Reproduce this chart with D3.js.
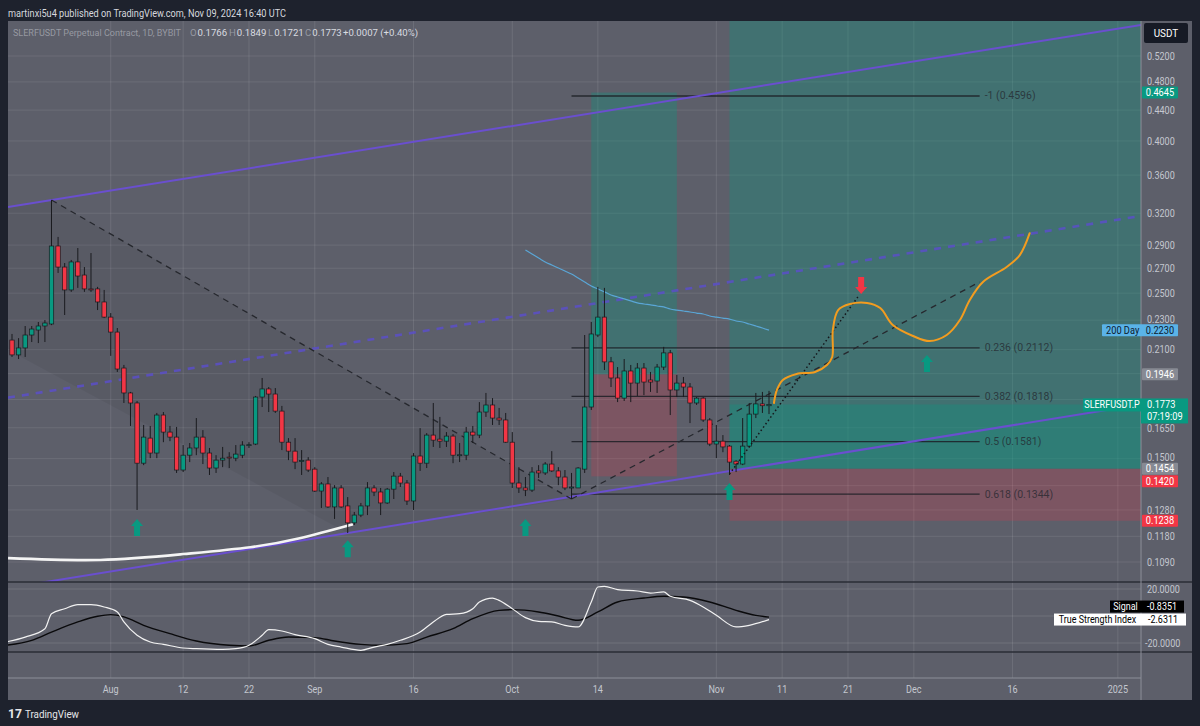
<!DOCTYPE html>
<html><head><meta charset="utf-8">
<script src="https://cdn.jsdelivr.net/npm/d3@7"></script>
<style>
body{margin:0;background:#1e222d;overflow:hidden}
text{font-family:Roboto,"Noto Sans",sans-serif}
</style>
</head><body>
<svg id="c" width="1200" height="726"></svg>
<script>
// ---------------- DATA ----------------
const startDate = "2024-07-17";
const opens = [0.2163,0.2066,0.2111,0.2197,0.2231,0.2259,0.2273,0.2892,0.2710,0.2525,
0.2753,0.2644,0.2533,0.2533,0.2433,0.2322,0.2217,0.1984,0.1837,0.1781,
0.1479,0.1598,0.1526,0.1716,0.1628,0.1603,0.1448,0.1516,0.1550,0.1603,
0.1526,0.1457,0.1493,0.1507,0.1502,0.1516,0.1564,0.1569,0.1814,0.1860,
0.1831,0.1737,0.1578,0.1535,0.1488,0.1493,0.1452,0.1357,0.1387,0.1292,
0.1370,0.1296,0.1230,0.1260,0.1296,0.1370,0.1353,0.1308,0.1365,0.1421,
0.1391,0.1316,0.1512,0.1479,0.1613,0.1593,0.1583,0.1608,0.1516,0.1516,
0.1628,0.1613,0.1732,0.1770,0.1700,0.1690,0.1578,0.1391,0.1370,0.1361,
0.1444,0.1435,0.1475,0.1444,0.1417,0.1370,0.1370,0.1452,0.1759,0.2197,
0.2322,0.2022,0.1924,0.1808,0.1966,0.1894,0.1984,0.1912,0.1906,0.1990,
0.2079,0.1854,0.1894,0.1871,0.1781,0.1808,0.1690,0.1569,0.1583,0.1559,
0.1488,0.1475,0.1559,0.1721,0.1776,0.1766];
const highs = [0.2204,0.2176,0.2259,0.2259,0.2287,0.2301,0.3333,0.2974,0.2744,0.2770,
0.2874,0.2710,0.2830,0.2549,0.2525,0.2351,0.2245,0.2003,0.1843,0.1792,
0.1664,0.1659,0.1727,0.1732,0.1659,0.1654,0.1564,0.1574,0.1700,0.1638,
0.1550,0.1516,0.1555,0.1530,0.1564,0.1583,0.1578,0.1820,0.1924,0.1871,
0.1865,0.1765,0.1598,0.1598,0.1540,0.1507,0.1461,0.1395,0.1417,0.1382,
0.1382,0.1332,0.1272,0.1308,0.1395,0.1382,0.1370,0.1370,0.1439,0.1435,
0.1404,0.1526,0.1648,0.1623,0.1781,0.1706,0.1628,0.1618,0.1574,0.1654,
0.1659,0.1786,0.1837,0.1808,0.1754,0.1727,0.1628,0.1461,0.1417,0.1461,
0.1470,0.1484,0.1535,0.1461,0.1448,0.1435,0.1461,0.2197,0.2287,0.2549,
0.2541,0.2053,0.1990,0.2040,0.2003,0.2015,0.2015,0.1960,0.2009,0.2118,
0.2098,0.1942,0.1930,0.1894,0.1814,0.1814,0.1700,0.1664,0.1613,0.1564,
0.1493,0.1700,0.1781,0.1837,0.1843,0.1849];
const lows = [0.2053,0.2040,0.2053,0.2150,0.2143,0.2150,0.2265,0.2661,0.2337,0.2510,
0.2541,0.2510,0.2510,0.2373,0.2315,0.2060,0.1960,0.1781,0.1659,0.1280,
0.1470,0.1502,0.1502,0.1578,0.1583,0.1435,0.1439,0.1484,0.1516,0.1475,
0.1426,0.1435,0.1461,0.1457,0.1488,0.1502,0.1550,0.1564,0.1759,0.1732,
0.1727,0.1540,0.1493,0.1452,0.1426,0.1439,0.1353,0.1288,0.1288,0.1245,
0.1288,0.1192,0.1222,0.1252,0.1260,0.1336,0.1260,0.1304,0.1324,0.1374,
0.1300,0.1280,0.1444,0.1457,0.1555,0.1550,0.1555,0.1479,0.1484,0.1493,
0.1574,0.1598,0.1706,0.1664,0.1664,0.1574,0.1370,0.1349,0.1336,0.1353,
0.1413,0.1426,0.1439,0.1382,0.1361,0.1324,0.1370,0.1435,0.1743,0.2183,
0.1972,0.1871,0.1786,0.1792,0.1786,0.1820,0.1825,0.1843,0.1837,0.1972,
0.1716,0.1814,0.1814,0.1674,0.1770,0.1680,0.1559,0.1502,0.1530,0.1426,
0.1439,0.1470,0.1555,0.1700,0.1727,0.1721];
const closes = [0.2066,0.2111,0.2197,0.2238,0.2259,0.2280,0.2892,0.2710,0.2525,0.2753,
0.2636,0.2533,0.2525,0.2433,0.2322,0.2217,0.1978,0.1837,0.1781,0.1479,
0.1603,0.1526,0.1716,0.1628,0.1603,0.1448,0.1516,0.1550,0.1603,0.1526,
0.1457,0.1493,0.1502,0.1505,0.1521,0.1564,0.1566,0.1814,0.1860,0.1831,
0.1737,0.1578,0.1535,0.1484,0.1491,0.1448,0.1357,0.1387,0.1292,0.1370,
0.1292,0.1230,0.1260,0.1296,0.1370,0.1353,0.1308,0.1365,0.1421,0.1391,
0.1316,0.1512,0.1479,0.1613,0.1588,0.1583,0.1608,0.1516,0.1518,0.1628,
0.1613,0.1732,0.1770,0.1700,0.1690,0.1578,0.1391,0.1370,0.1361,0.1439,
0.1435,0.1475,0.1444,0.1417,0.1370,0.1374,0.1457,0.1759,0.2204,0.2322,
0.2022,0.1924,0.1808,0.1966,0.1894,0.1984,0.1900,0.1900,0.1990,0.2079,
0.1854,0.1894,0.1871,0.1781,0.1808,0.1690,0.1569,0.1583,0.1555,0.1484,
0.1475,0.1559,0.1721,0.1776,0.1766,0.1773];

// 200-day moving average, daily from Oct 3
const maStartDay = 78;
const ma200 = [0.2856,0.2821,0.2787,0.2753,0.2727,0.2702,0.2677,0.2652,0.2620,0.2588,
0.2556,0.2533,0.2510,0.2486,0.2471,0.2456,0.2441,0.2426,0.2418,0.2411,
0.2403,0.2396,0.2381,0.2373,0.2366,0.2359,0.2351,0.2344,0.2330,0.2322,
0.2315,0.2308,0.2294,0.2287,0.2273,0.2259,0.2245,0.2230];

// True Strength Index and signal (day offset from start, value)
const tsiDays = [-1,2,5,6,8,10,12,14,16,17,19,21,23,26,28,32,34,36,38,39,41,43,46,48,50,53,55,57,59,62,64,66,68,70,71,73,74,76,78,80,82,84,86,88,89,90,92,95,97,99,100,103,105,107,110,112,115];
const tsiVals = [-19.3,-15.6,-9.4,1.7,5.4,8.4,8.4,6.7,3.0,-4.4,-14.3,-19.3,-21.0,-23.7,-24.2,-24.7,-24.2,-21.7,-14.3,-10.1,-11.1,-13.8,-16.8,-21.0,-23.0,-25.4,-23.0,-21.0,-18.0,-11.9,-4.4,1.2,1.7,5.4,10.4,13.3,11.6,5.4,-1.2,-4.0,-4.4,-6.9,-8.1,10.4,21.5,22.0,19.5,18.5,17.0,17.8,14.6,11.6,6.7,0.5,-8.1,-6.9,-2.6311];
const sigDays = [-1,3,6,10,13,15,17,20,24,28,33,36,39,42,46,49,53,56,60,63,67,70,74,76,80,83,86,89,92,96,99,102,106,110,113,115];
const sigVals = [-21.7,-18.0,-11.9,-4.4,-0.2,1.0,-0.7,-6.9,-13.1,-18.5,-21.7,-22.2,-18.0,-15.6,-16.0,-18.5,-21.0,-21.7,-20.5,-15.6,-9.4,-2.0,4.2,4.7,3.0,0,-3.2,3.0,10.4,13.3,14.6,14.1,10.4,4.2,0.5,-0.8351];

// axis ticks
const timeTicks = ["2024-08-01","2024-08-12","2024-08-22","2024-09-01","2024-09-16","2024-10-01","2024-10-14","2024-11-01","2024-11-11","2024-11-21","2024-12-01","2024-12-16","2025-01-01"];
const timeLabels = ["Aug","12","22","Sep","16","Oct","14","Nov","11","21","Dec","16","2025"];
const priceTicks = [0.52,0.48,0.44,0.40,0.36,0.32,0.29,0.27,0.25,0.23,0.21,0.195,0.18,0.165,0.15,0.138,0.128,0.118,0.109];
const tsiTicks = [20,0,-20];

// fib retracement
const fibNames = ["-1","0.236","0.382","0.5","0.618"];
const fibPrices = [0.4596,0.2112,0.1818,0.1581,0.1344];
const fibDays = [85,147];

// drawings: [day, price] anchors
const upperChannel = [[6,0.3333],[171,0.5714]];
const midChannel = [[0,0.1814],[171,0.3168]];
const lowerChannel = [[51,0.1192],[109,0.1443]];
const trendDown = [[6,0.3333],[85,0.1324]];
const trendUp = [[85,0.1324],[147,0.2588]];
const dottedTrend = [[109,0.1430],[128.5,0.2471]];
const arcDays = [-0.6,13.4,26,36.2,43.7,51.8];
const arcPrices = [0.1103,0.1097,0.1117,0.1141,0.1173,0.1225];
const pathDays = [115.75,116.2,117.1,119.2,122.0,123.8,124.6,124.7,125.5,127.3,129.9,131.9,133.8,136.9,139.4,142.0,144.0,145.5,147.5,151.1,153.1,154.6];
const pathPrices = [0.1781,0.1854,0.1912,0.1948,0.1960,0.2003,0.2053,0.2231,0.2373,0.2418,0.2426,0.2388,0.2266,0.2190,0.2156,0.2197,0.2301,0.2448,0.2588,0.2710,0.2812,0.3009];
const arrowDays = [19,51,78,109,139,129];
const arrowPrices = [0.1245,0.1166,0.1245,0.1391,0.2066,0.2494];
const arrowDirs = [1,1,1,1,1,-1];
const shadePoly = [[6,0.3333],[85,0.1324],[51,0.1192],[-0.6,0.2098]];

// position tools: start day, end day, target, entry, stop
const pos1 = {start:88, end:101, target:0.4645, entry:0.1946, stop:0.1420};
const pos2 = {start:109, end:200, target:0.65, entry:0.1454, stop:0.1238};

// ---------------- SCALES ----------------
const W=1200,H=726;
const L=8, R=1141, T=21, MB=582, IB=652, LB=678, AB=700, AR=1192;
const t0 = new Date(startDate+"T00:00:00Z").getTime();
const DAY=864e5;
const xs = d3.scaleUtc().domain([new Date(t0), new Date(t0+115*DAY)]).range([12,769]);
const X = d => xs(new Date(t0+d*DAY));
const Y = d3.scaleLog().domain([0.52,0.109]).range([56,562]);
const YI = d3.scaleLinear().domain([20,-20]).range([589,643]);

const svg = d3.select("#c");
function squeeze(sel,f){sel.each(function(){const l=this.getComputedTextLength();d3.select(this).attr("textLength",l*f).attr("lengthAdjust","spacingAndGlyphs");});}
function lineYAt(anc,x){const x1=X(anc[0][0]),y1=Y(anc[0][1]),x2=X(anc[1][0]),y2=Y(anc[1][1]);return y1+(y2-y1)/(x2-x1)*(x-x1);}

// backgrounds
svg.append("rect").attr("width",W).attr("height",H).attr("fill","#1e222d");
svg.append("rect").attr("x",L).attr("y",T).attr("width",AR-L).attr("height",AB-T).attr("fill","#5d5f6a");

const defs = svg.append("defs");
defs.append("clipPath").attr("id","mainClip").append("rect").attr("x",L).attr("y",T).attr("width",R-L).attr("height",MB-T);
defs.append("clipPath").attr("id","indClip").append("rect").attr("x",L).attr("y",MB).attr("width",R-L).attr("height",IB-MB);

// grid
const grid = svg.append("g");
timeTicks.forEach(t=>{const x=xs(new Date(t+"T00:00:00Z"));
  grid.append("line").attr("x1",x).attr("x2",x).attr("y1",T).attr("y2",LB).attr("stroke","rgba(255,255,255,0.10)");});
priceTicks.forEach(p=>{grid.append("line").attr("x1",L).attr("x2",R).attr("y1",Y(p)).attr("y2",Y(p)).attr("stroke","rgba(255,255,255,0.09)");});
tsiTicks.forEach(v=>{grid.append("line").attr("x1",L).attr("x2",R).attr("y1",YI(v)).attr("y2",YI(v)).attr("stroke","rgba(255,255,255,0.12)");});

const main = svg.append("g").attr("clip-path","url(#mainClip)");

// subtle shaded region
const shadePts = [[L, lineYAt(upperChannel, L)], ...shadePoly.map(a=>[X(a[0]),Y(a[1])])];
main.append("polygon").attr("points",shadePts.map(p=>p.join(",")).join(" ")).attr("fill","rgba(0,0,0,0.05)");

// position tools
function drawPos(p, current){
  const x1=X(p.start), x2=Math.min(X(p.end),R);
  main.append("rect").attr("x",x1).attr("width",x2-x1).attr("y",Y(p.target)).attr("height",Y(p.entry)-Y(p.target)).attr("fill","rgba(8,153,129,0.33)");
  main.append("rect").attr("x",x1).attr("width",x2-x1).attr("y",Y(p.entry)).attr("height",Y(p.stop)-Y(p.entry)).attr("fill","rgba(242,54,69,0.21)");
  if(current){
    main.append("rect").attr("x",x1).attr("width",x2-x1).attr("y",Y(current)).attr("height",Y(p.entry)-Y(current)).attr("fill","rgba(8,153,129,0.30)");
  }
}
drawPos(pos1);
drawPos(pos2, closes[closes.length-1]);

// fib levels
fibPrices.forEach((p,i)=>{
  main.append("line").attr("x1",X(fibDays[0])).attr("x2",X(fibDays[1])).attr("y1",Y(p)).attr("y2",Y(p)).attr("stroke","#1d1f26").attr("stroke-width",1.3).attr("opacity",0.85);
  main.append("text").attr("x",X(fibDays[1])+5).attr("y",Y(p)+3.5).attr("font-size",10.5).attr("fill","rgba(35,38,45,0.75)").text(`${fibNames[i]} (${p.toFixed(4)})`);
});

// channel
function fullLine(anc,x0,x1){return [[x0,lineYAt(anc,x0)],[x1,lineYAt(anc,x1)]];}
const ln = d3.line();
main.append("path").attr("d",ln(fullLine(upperChannel,L,R))).attr("stroke","#6a4fcf").attr("stroke-width",2).attr("fill","none");
main.append("path").attr("d",ln(fullLine(lowerChannel,L,R))).attr("stroke","#6a4fcf").attr("stroke-width",2).attr("fill","none");
main.append("path").attr("d",ln(fullLine(midChannel,L,R))).attr("stroke","#5b4fc8").attr("stroke-width",2.6).attr("stroke-dasharray","7,7").attr("fill","none").attr("opacity",0.85);

// white arc
main.append("path").attr("d",d3.line().curve(d3.curveNatural)(arcDays.map((d,i)=>[X(d),Y(arcPrices[i])]))).attr("stroke","#f4f4f4").attr("stroke-width",2.6).attr("fill","none");

// 200 MA
main.append("path").attr("d",d3.line().curve(d3.curveMonotoneX)(ma200.map((v,i)=>[X(maStartDay+i),Y(v)]))).attr("stroke","#5aa6d6").attr("stroke-width",1.2).attr("fill","none");

// dashed trend lines
[trendDown,trendUp].forEach(a=>{
  main.append("path").attr("d",ln(a.map(q=>[X(q[0]),Y(q[1])]))).attr("stroke","#26282e").attr("stroke-width",1.3).attr("stroke-dasharray","6,5").attr("fill","none");
});

// candles
const bw=4.4;
const cg = main.append("g");
opens.forEach((o,i)=>{
  const h=highs[i], l=lows[i], c=closes[i], x=X(i);
  const up = c>=o;
  cg.append("line").attr("x1",x).attr("x2",x).attr("y1",Y(h)).attr("y2",Y(l)).attr("stroke","#1a1b1f").attr("stroke-width",1);
  const yt=Y(Math.max(o,c)), yb=Y(Math.min(o,c));
  cg.append("rect").attr("x",x-bw/2).attr("width",bw).attr("y",yt).attr("height",Math.max(1,yb-yt))
    .attr("fill",up?"#089981":"#f23645").attr("stroke","#1a1b1f").attr("stroke-width",0.7);
});

// dotted
main.append("path").attr("d",ln(dottedTrend.map(q=>[X(q[0]),Y(q[1])]))).attr("stroke","#15161a").attr("stroke-width",1.5).attr("stroke-dasharray","1.5,2.6").attr("fill","none");

// orange path
main.append("path").attr("d",d3.line().curve(d3.curveCatmullRom.alpha(0.5))(pathDays.map((d,i)=>[X(d),Y(pathPrices[i])]))).attr("stroke","#f39c1f").attr("stroke-width",2).attr("fill","none").attr("stroke-linecap","round");

// arrows
arrowDays.forEach((d,i)=>{
  const x=X(d), y=Y(arrowPrices[i]), s=arrowDirs[i];
  const pts=[[0,0],[6,7],[3,7],[3,17],[-3,17],[-3,7],[-6,7]].map(p=>[x+p[0], y+s*p[1]]);
  main.append("polygon").attr("points",pts.map(p=>p.join(",")).join(" ")).attr("fill",s>0?"#089981":"#f23645");
});

// ---------- indicator pane ----------
const ind = svg.append("g").attr("clip-path","url(#indClip)");
ind.append("path").attr("d",d3.line().curve(d3.curveMonotoneX)(sigDays.map((d,i)=>[X(d),YI(sigVals[i])]))).attr("stroke","#0a0a0c").attr("stroke-width",1.4).attr("fill","none");
ind.append("path").attr("d",d3.line().curve(d3.curveMonotoneX)(tsiDays.map((d,i)=>[X(d),YI(tsiVals[i])]))).attr("stroke","#f2f2f2").attr("stroke-width",1.2).attr("fill","none");

// separators
svg.append("line").attr("x1",L).attr("x2",AR).attr("y1",MB).attr("y2",MB).attr("stroke","#2a2d36").attr("stroke-width",1.6);
svg.append("line").attr("x1",L).attr("x2",AR).attr("y1",IB).attr("y2",IB).attr("stroke","#2a2d36").attr("stroke-width",1.6);
svg.append("line").attr("x1",L).attr("x2",R).attr("y1",LB).attr("y2",LB).attr("stroke","#8d9099").attr("stroke-width",1);
svg.append("line").attr("x1",R).attr("x2",R).attr("y1",T).attr("y2",AB).attr("stroke","#8d9099").attr("stroke-width",1);

// price labels on axis (computed first so covered tick labels can be skipped or nudged)
const last = closes.length-1;
const labelSpecs = [
  {p:pos1.target, bg:"#089981"},
  {p:pos1.entry, bg:"#878a93"},
  {p:pos2.entry, bg:"#878a93"},
  {p:pos1.stop, bg:"#f23645"},
  {p:pos2.stop, bg:"#f23645"}
].map(s=>({...s,y:Y(s.p)})).sort((a,b)=>a.y-b.y);
for(let i=1;i<labelSpecs.length;i++){ if(labelSpecs[i].y-labelSpecs[i-1].y<12.5) labelSpecs[i].y=labelSpecs[i-1].y+12.5; }
const maLast = ma200[ma200.length-1];
const cy = Y(closes[last]);
const covered = [...labelSpecs.map(s=>[s.y-6,s.y+6]), [Y(maLast)-6,Y(maLast)+6], [cy-6,cy+19]];
function tickPlace(y){
  const half=4.8;
  for(const r of covered){
    const top=y-half, bot=y+half;
    if(bot>r[0] && top<r[1]){
      const upShift = bot-r[0], downShift = r[1]-top;
      if(upShift<=3) return y-upShift-0.3;
      if(downShift<=3) return y+downShift+0.3;
      return null;
    }
  }
  return y;
}

// price axis ticks
const axisG = svg.append("g");
priceTicks.forEach(p=>{
  const yy = tickPlace(Y(p));
  if(yy===null) return;
  axisG.append("text").attr("x",1147).attr("y",yy+3.6).attr("font-size",10.5).attr("fill","#c4c7cf").text(p.toFixed(4)).call(squeeze,0.86);
});
tsiTicks.filter(v=>v!==0).forEach(v=>{
  axisG.append("text").attr("x",v<0?1145:1147).attr("y",YI(v)+3.6).attr("font-size",10.5).attr("fill","#c4c7cf").text(v.toFixed(4)).call(squeeze,0.86);
});
// time axis labels
timeTicks.forEach((t,i)=>{
  axisG.append("text").attr("x",xs(new Date(t+"T00:00:00Z"))).attr("y",693).attr("text-anchor","middle").attr("font-size",10.5).attr("fill","#c4c7cf").text(timeLabels[i]).call(squeeze,0.86);
});

function boxLabel(x,y,w,h,bg,fg,txt,fs){
  axisG.append("rect").attr("x",x).attr("y",y-h/2).attr("width",w).attr("height",h).attr("fill",bg).attr("rx",1);
  axisG.append("text").attr("x",x+w/2).attr("y",y+3.7).attr("text-anchor","middle").attr("font-size",fs||10.5).attr("fill",fg).text(txt).call(squeeze,0.88);
}
labelSpecs.forEach(s=>boxLabel(1142,s.y,36,12,s.bg,"#ffffff",s.p.toFixed(4)));

// 200 day label
axisG.append("rect").attr("x",1102).attr("y",Y(maLast)-6).attr("width",76).attr("height",12).attr("fill","#5ab3e8").attr("rx",1);
axisG.append("text").attr("x",1106).attr("y",Y(maLast)+3.7).attr("font-size",10.5).attr("fill","#0d1a2e").text("200 Day").call(squeeze,0.88);
axisG.append("text").attr("x",1160).attr("y",Y(maLast)+3.7).attr("text-anchor","middle").attr("font-size",10.5).attr("fill","#0d1a2e").text(maLast.toFixed(4)).call(squeeze,0.88);

// current price label
axisG.append("rect").attr("x",1083).attr("y",cy-6).attr("width",58).attr("height",13).attr("fill","#089981");
axisG.append("text").attr("x",1112).attr("y",cy+4).attr("text-anchor","middle").attr("font-size",10.5).attr("fill","#fff").text("SLERFUSDT.P").call(squeeze,0.86);
axisG.append("rect").attr("x",1141).attr("y",cy-6).attr("width",47).attr("height",25).attr("fill","#089981");
axisG.append("text").attr("x",1147).attr("y",cy+4).attr("font-size",10.5).attr("fill","#fff").text(closes[last].toFixed(4)).call(squeeze,0.88);
axisG.append("text").attr("x",1147).attr("y",cy+16).attr("font-size",10.5).attr("fill","#fff").text("07:19:09").call(squeeze,0.88);

// USDT
axisG.append("rect").attr("x",1144).attr("y",23).attr("width",44).attr("height",20).attr("fill","#161a25").attr("rx",2);
axisG.append("text").attr("x",1166).attr("y",37).attr("text-anchor","middle").attr("font-size",11).attr("fill","#ffffff").text("USDT").call(squeeze,0.9);

// TSI labels
const tsiY = YI(tsiVals[tsiVals.length-1]);
const sigY = tsiY-13;
axisG.append("rect").attr("x",1110).attr("y",sigY-6).attr("width",31).attr("height",12).attr("fill","#000");
axisG.append("text").attr("x",1125.5).attr("y",sigY+3.7).attr("text-anchor","middle").attr("font-size",10.5).attr("fill","#fff").text("Signal").call(squeeze,0.85);
axisG.append("rect").attr("x",1141).attr("y",sigY-6).attr("width",43).attr("height",12).attr("fill","#000");
axisG.append("text").attr("x",1162).attr("y",sigY+3.7).attr("text-anchor","middle").attr("font-size",10.5).attr("fill","#fff").text(sigVals[sigVals.length-1].toFixed(4)).call(squeeze,0.85);
axisG.append("rect").attr("x",1054).attr("y",tsiY-6).attr("width",87).attr("height",12).attr("fill","#fff");
axisG.append("text").attr("x",1097.5).attr("y",tsiY+3.7).attr("text-anchor","middle").attr("font-size",10.5).attr("fill","#000").text("True Strength Index").call(squeeze,0.85);
axisG.append("rect").attr("x",1141).attr("y",tsiY-6).attr("width",45).attr("height",12).attr("fill","#fff");
axisG.append("text").attr("x",1163).attr("y",tsiY+3.7).attr("text-anchor","middle").attr("font-size",10.5).attr("fill","#000").text(tsiVals[tsiVals.length-1].toFixed(4)).call(squeeze,0.85);

// header
svg.append("text").attr("x",8).attr("y",16.5).attr("font-size",11).attr("fill","#d6d8de").attr("textLength",278).attr("lengthAdjust","spacingAndGlyphs").text("martinxi5u4 published on TradingView.com, Nov 09, 2024 16:40 UTC");

// legend: separate text elements placed one after another
const o=opens[last],h=highs[last],l=lows[last],c=closes[last],chg=c-closes[last-1];
const dim="rgba(200,203,210,0.55)", bright="#d9dbe0";
svg.append("text").attr("x",13).attr("y",36).attr("font-size",9).attr("fill",dim)
  .attr("textLength",168).attr("lengthAdjust","spacingAndGlyphs").text("SLERFUSDT Perpetual Contract, 1D, BYBIT");
const groups = [["O",o,190],["H",h,229],["L",l,268],["C",c,305]];
groups.forEach(g=>{
  const a=svg.append("text").attr("x",g[2]).attr("y",36).attr("font-size",9.6).attr("fill",dim).text(g[0]);
  const w=a.node().getComputedTextLength();
  svg.append("text").attr("x",g[2]+w+1).attr("y",36).attr("font-size",9.6).attr("fill",bright).text(g[1].toFixed(4));
});
svg.append("text").attr("x",343).attr("y",36).attr("font-size",9.6).attr("fill",bright)
  .text((chg>=0?"+":"")+chg.toFixed(4)+" ("+(chg>=0?"+":"")+(chg/closes[last-1]*100).toFixed(2)+"%)");

// footer logo
svg.append("text").attr("x",8).attr("y",718).attr("font-size",12).attr("font-weight","bold").attr("fill","#e6e7ea").attr("textLength",14).attr("lengthAdjust","spacingAndGlyphs").text("17");
svg.append("text").attr("x",25).attr("y",717.5).attr("font-size",11).attr("fill","#e6e7ea").attr("textLength",54).attr("lengthAdjust","spacingAndGlyphs").text("TradingView");
</script>
</body></html>
